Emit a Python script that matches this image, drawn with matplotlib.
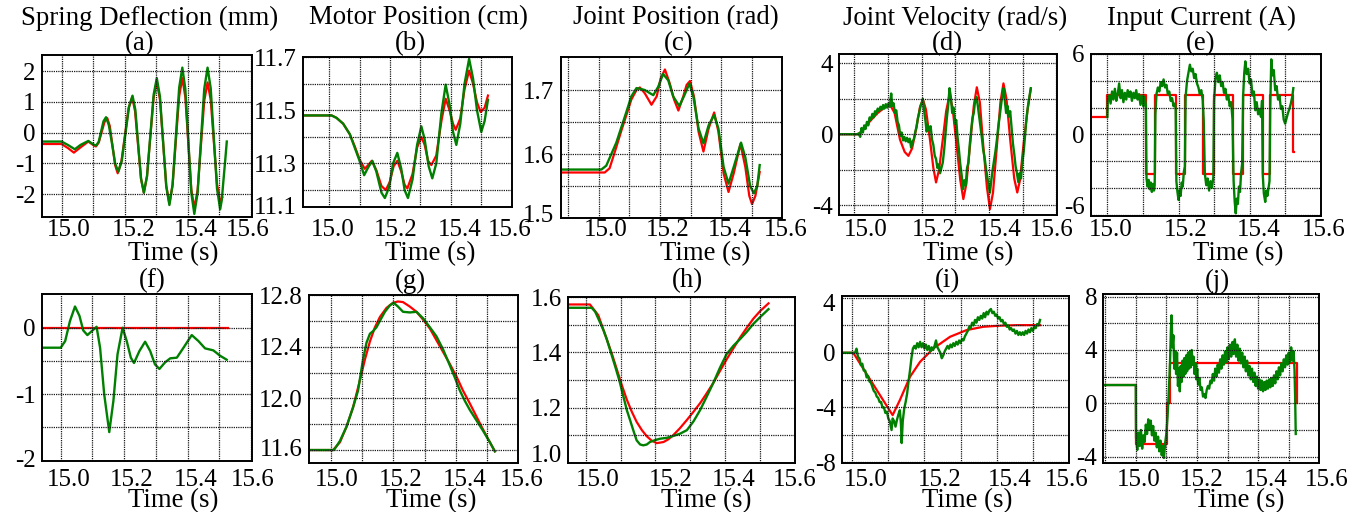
import numpy as np
import matplotlib
matplotlib.use("Agg")
import matplotlib.pyplot as plt
from matplotlib.transforms import ScaledTranslation

plt.rcParams['font.family'] = ['Liberation Serif', 'DejaVu Serif']
FS = 19.3        # titles / axis labels
FS_TICK = 18.0   # tick labels

# ---------------- data (time s, value) ----------------
top_titles = ['Spring Deflection (mm)', 'Motor Position (cm)', 'Joint Position (rad)',
              'Joint Velocity (rad/s)', 'Input Current (A)']
letters = ['(a)', '(b)', '(c)', '(d)', '(e)', '(f)', '(g)', '(h)', '(i)', '(j)']
x_label = 'Time (s)'
x_ticks = [15.0, 15.2, 15.4, 15.6]
x_ticklabels = ['15.0', '15.2', '15.4', '15.6']
x_grid = [14.9, 15.1, 15.3, 15.5]

a_red = [(14.937, -0.37), (15.0, -0.37), (15.02, -0.5), (15.039, -0.65), (15.06, -0.48), (15.085, -0.29),
         (15.10, -0.40), (15.109, -0.45), (15.118, -0.32), (15.127, 0.01), (15.136, 0.34), (15.145, 0.47),
         (15.153, 0.21), (15.1615, -0.425), (15.17, -1.06), (15.178, -1.32), (15.1895, -0.96),
         (15.201, -0.085), (15.2125, 0.79), (15.224, 1.15), (15.233, 0.70), (15.2425, -0.40),
         (15.252, -1.50), (15.261, -1.95), (15.271, -1.42), (15.2815, -0.145), (15.292, 1.13),
         (15.302, 1.66), (15.312, 1.08), (15.322, -0.32), (15.332, -1.72), (15.342, -2.30),
         (15.352, -1.71), (15.3625, -0.265), (15.373, 1.18), (15.383, 1.77), (15.3925, 1.15),
         (15.402, -0.345), (15.4115, -1.84), (15.421, -2.46), (15.4315, -1.86), (15.442, -0.415),
         (15.4525, 1.03), (15.463, 1.63), (15.473, 1.06), (15.483, -0.305), (15.493, -1.67),
         (15.503, -2.24), (15.51, -2.1)]
a_green = [(14.937, -0.29), (15.0, -0.29), (15.02, -0.40), (15.042, -0.54), (15.06, -0.40), (15.085, -0.27),
           (15.10, -0.38), (15.11, -0.42), (15.118, -0.29), (15.1255, 0.04), (15.133, 0.37), (15.141, 0.50),
           (15.15, 0.24), (15.1605, -0.385), (15.17, -1.01), (15.18, -1.27), (15.191, -0.91),
           (15.2025, -0.035), (15.214, 0.84), (15.225, 1.20), (15.234, 0.74), (15.243, -0.375),
           (15.252, -1.49), (15.261, -1.95), (15.271, -1.41), (15.2815, -0.09), (15.292, 1.23),
           (15.302, 1.77), (15.312, 1.17), (15.322, -0.29), (15.332, -1.75), (15.342, -2.35),
           (15.352, -1.70), (15.3625, -0.12), (15.373, 1.46), (15.383, 2.11), (15.3925, 1.42),
           (15.402, -0.265), (15.4115, -1.95), (15.421, -2.64), (15.4315, -1.95), (15.442, -0.265),
           (15.4525, 1.42), (15.463, 2.11), (15.473, 1.44), (15.483, -0.19), (15.493, -1.82),
           (15.503, -2.49), (15.508, -2.2), (15.513, -1.6), (15.519, -0.9), (15.524, -0.29)]

b_red = [(14.915, 11.481), (15.008, 11.481), (15.024, 11.472), (15.046, 11.45), (15.068, 11.41),
         (15.084, 11.365), (15.10, 11.315), (15.117, 11.28), (15.129, 11.295), (15.14, 11.31),
         (15.155, 11.275), (15.172, 11.215), (15.186, 11.2), (15.199, 11.23), (15.212, 11.29),
         (15.224, 11.31), (15.237, 11.27), (15.248, 11.22), (15.257, 11.206), (15.274, 11.26),
         (15.289, 11.36), (15.303, 11.40), (15.314, 11.37), (15.325, 11.31), (15.336, 11.294),
         (15.352, 11.33), (15.369, 11.46), (15.383, 11.544), (15.396, 11.50), (15.407, 11.45),
         (15.416, 11.427), (15.431, 11.47), (15.445, 11.58), (15.46, 11.65), (15.473, 11.6),
         (15.486, 11.53), (15.498, 11.494), (15.511, 11.51), (15.522, 11.556)]
b_green = [(14.915, 11.481), (15.008, 11.481), (15.024, 11.472), (15.046, 11.45), (15.068, 11.41),
           (15.084, 11.36), (15.10, 11.31), (15.115, 11.256), (15.128, 11.285), (15.142, 11.31),
           (15.155, 11.27), (15.172, 11.19), (15.183, 11.17), (15.197, 11.21), (15.21, 11.30),
           (15.224, 11.34), (15.237, 11.28), (15.248, 11.2), (15.259, 11.17), (15.274, 11.24),
           (15.289, 11.37), (15.303, 11.44), (15.314, 11.39), (15.327, 11.29), (15.339, 11.244),
           (15.352, 11.30), (15.369, 11.49), (15.383, 11.597), (15.396, 11.52), (15.407, 11.42),
           (15.418, 11.37), (15.431, 11.45), (15.445, 11.6), (15.46, 11.694), (15.473, 11.62),
           (15.486, 11.5), (15.50, 11.419), (15.511, 11.46), (15.522, 11.54)]

c_red = [(14.875, 1.5714), (15.019, 1.5714), (15.035, 1.578), (15.057, 1.611), (15.073, 1.636),
         (15.09, 1.661), (15.106, 1.685), (15.123, 1.70), (15.134, 1.704), (15.15, 1.695),
         (15.172, 1.677), (15.189, 1.69), (15.202, 1.718), (15.216, 1.732), (15.232, 1.71),
         (15.246, 1.685), (15.26, 1.668), (15.276, 1.69), (15.287, 1.708), (15.298, 1.714),
         (15.311, 1.69), (15.326, 1.635), (15.342, 1.604), (15.359, 1.64), (15.377, 1.665),
         (15.391, 1.635), (15.408, 1.57), (15.424, 1.541), (15.441, 1.57), (15.463, 1.616),
         (15.479, 1.58), (15.492, 1.535), (15.501, 1.522), (15.512, 1.535), (15.526, 1.572)]
c_green = [(14.875, 1.576), (15.008, 1.576), (15.024, 1.582), (15.057, 1.618), (15.09, 1.666),
           (15.106, 1.69), (15.123, 1.703), (15.134, 1.702), (15.15, 1.70), (15.167, 1.695),
           (15.178, 1.692), (15.194, 1.705), (15.21, 1.725), (15.227, 1.715), (15.243, 1.69),
           (15.263, 1.675), (15.278, 1.69), (15.296, 1.71), (15.309, 1.69), (15.326, 1.64),
           (15.342, 1.617), (15.359, 1.645), (15.377, 1.661), (15.391, 1.64), (15.408, 1.58),
           (15.424, 1.554), (15.441, 1.58), (15.465, 1.618), (15.479, 1.595), (15.495, 1.55),
           (15.507, 1.539), (15.518, 1.55), (15.526, 1.583)]

d_red = [(14.956, 0.0), (15.013, 0.0), (15.03, 0.35), (15.05, 0.8), (15.07, 1.2), (15.09, 1.5),
         (15.107, 1.65), (15.12, 1.2), (15.136, -0.3), (15.15, -1.0), (15.161, -1.22), (15.172, -0.8),
         (15.185, 0.4), (15.195, 1.5), (15.204, 1.97), (15.213, 1.4), (15.225, -0.3), (15.235, -1.9),
         (15.243, -2.72), (15.252, -2.0), (15.263, -0.3), (15.273, 1.3), (15.283, 2.22), (15.292, 1.5),
         (15.304, -0.6), (15.315, -2.6), (15.324, -3.66), (15.333, -2.8), (15.344, -0.6), (15.355, 1.6),
         (15.364, 2.65), (15.373, 1.8), (15.383, -0.6), (15.394, -3.0), (15.403, -4.23), (15.412, -3.3),
         (15.423, -0.8), (15.434, 1.8), (15.443, 2.87), (15.452, 2.0), (15.463, -0.3), (15.475, -2.5),
         (15.484, -3.29), (15.492, -2.6), (15.503, -0.5), (15.514, 1.3), (15.524, 2.54)]
d_green = [(14.956, 0.0), (15.010, 0.0), (15.013, 0.05), (15.018, -0.15), (15.022, 0.35), (15.026, 0.1),
           (15.030, 0.5), (15.034, 0.3), (15.038, 0.7), (15.042, 0.5), (15.046, 0.95), (15.050, 0.8),
           (15.054, 1.15), (15.058, 0.95), (15.062, 1.3), (15.066, 1.15), (15.070, 1.45), (15.074, 1.3),
           (15.078, 1.55), (15.082, 1.4), (15.086, 1.65), (15.090, 1.45), (15.094, 1.7), (15.098, 1.5),
           (15.102, 1.75), (15.106, 1.55), (15.110, 2.3), (15.113, 1.6), (15.117, 1.75), (15.121, 1.2),
           (15.125, 1.35), (15.129, 0.7), (15.133, 0.5), (15.137, -0.1), (15.141, 0.1), (15.145, -0.35),
           (15.149, -0.15), (15.153, -0.4), (15.157, -0.2), (15.161, -0.45), (15.165, -0.25),
           (15.169, -0.75), (15.173, -0.4), (15.177, -0.3), (15.181, 0.1), (15.185, 0.4), (15.189, 0.9),
           (15.193, 1.2), (15.197, 1.6), (15.201, 1.8), (15.204, 2.0), (15.208, 1.3), (15.212, 0.7),
           (15.215, 0.15), (15.219, 0.5), (15.223, 0.2), (15.227, 0.45), (15.231, -0.3), (15.235, -0.6),
           (15.239, -1.2), (15.243, -1.4), (15.247, -1.9), (15.251, -1.7), (15.255, -2.2), (15.259, -1.9),
           (15.263, -1.6), (15.267, -0.9), (15.271, 0.0), (15.275, 0.9), (15.279, 1.6), (15.283, 2.6),
           (15.287, 2.1), (15.291, 1.2), (15.295, 1.5), (15.299, 0.6), (15.303, 0.8), (15.307, -0.2),
           (15.311, -0.9), (15.315, -1.7), (15.319, -2.3), (15.323, -3.1), (15.327, -2.6), (15.331, -2.9),
           (15.335, -1.9), (15.339, -1.6), (15.343, -0.6), (15.347, 0.2), (15.351, 0.9), (15.355, 1.2),
           (15.359, 1.9), (15.363, 2.1), (15.367, 1.6), (15.371, 1.0), (15.375, 0.4), (15.379, -0.2),
           (15.383, -0.9), (15.387, -1.3), (15.391, -1.9), (15.395, -2.4), (15.399, -2.9), (15.403, -3.3),
           (15.407, -2.6), (15.411, -2.0), (15.415, -1.5), (15.419, -1.0), (15.423, -0.4), (15.427, 0.3),
           (15.431, 0.9), (15.435, 1.5), (15.439, 2.1), (15.443, 2.6), (15.447, 1.9), (15.451, 1.2),
           (15.455, 1.6), (15.459, 1.0), (15.463, 1.3), (15.467, 0.4), (15.471, -0.5), (15.475, -1.1),
           (15.479, -1.8), (15.483, -2.2), (15.487, -2.7), (15.491, -2.2), (15.495, -2.5), (15.499, -1.6),
           (15.503, -1.0), (15.507, -0.1), (15.511, 0.8), (15.515, 1.5), (15.519, 2.0), (15.524, 2.6)]

e_red_steps = [(14.953, 1.28), (15.0, 2.95), (15.109, -2.97), (15.134, 2.95), (15.193, -2.97),
               (15.219, 2.95), (15.27, -2.97), (15.30, 2.95), (15.353, -2.97), (15.381, 2.95),
               (15.437, -2.97), (15.458, 2.95), (15.523, -1.35), (15.525, -1.35)]
e_green = [(15.000, 1.3), (15.001, 2.5), (15.005, 2.9), (15.009, 2.3), (15.013, 3.2), (15.017, 2.6),
           (15.021, 3.4), (15.025, 2.5), (15.029, 3.0), (15.033, 3.8), (15.037, 2.7), (15.041, 3.3),
           (15.045, 2.4), (15.049, 3.1), (15.053, 2.6), (15.057, 3.3), (15.061, 2.8), (15.065, 3.2),
           (15.069, 2.5), (15.073, 3.1), (15.077, 2.7), (15.081, 3.3), (15.085, 2.6), (15.089, 3.0),
           (15.093, 2.2), (15.097, 2.9), (15.101, 2.1), (15.105, 2.8), (15.108, 2.2), (15.110, -3.3),
           (15.113, -3.9), (15.116, -3.4), (15.119, -4.1), (15.122, -3.6), (15.125, -4.3), (15.128, -3.7),
           (15.131, -4.2), (15.133, -3.8), (15.135, 1.5), (15.138, 3.0), (15.142, 3.5), (15.146, 3.2),
           (15.150, 3.9), (15.154, 3.6), (15.158, 4.1), (15.162, 3.5), (15.166, 3.7), (15.170, 3.0),
           (15.174, 3.2), (15.178, 2.5), (15.182, 2.7), (15.186, 2.1), (15.190, 2.3), (15.192, 1.9),
           (15.194, -3.5), (15.197, -4.3), (15.200, -4.9), (15.203, -4.2), (15.206, -4.6), (15.209, -3.6),
           (15.212, -3.9), (15.215, -2.8), (15.218, -2.4), (15.220, 2.8), (15.224, 4.0), (15.228, 4.6),
           (15.232, 5.2), (15.236, 4.7), (15.240, 4.9), (15.244, 4.2), (15.248, 4.5), (15.252, 3.8),
           (15.256, 3.5), (15.260, 3.0), (15.264, 3.3), (15.268, 2.6), (15.271, 1.0), (15.274, -2.9),
           (15.278, -3.8), (15.282, -3.3), (15.286, -4.2), (15.290, -3.5), (15.294, -4.0), (15.298, -3.2),
           (15.300, 2.5), (15.304, 4.2), (15.308, 4.6), (15.312, 3.9), (15.316, 4.4), (15.320, 3.6),
           (15.324, 3.9), (15.328, 3.1), (15.332, 3.4), (15.336, 2.6), (15.340, 2.9), (15.344, 2.1),
           (15.348, 2.4), (15.352, 1.1), (15.355, -3.5), (15.358, -5.0), (15.361, -5.9), (15.364, -4.8),
           (15.367, -5.2), (15.370, -3.9), (15.373, -4.3), (15.376, -2.9), (15.379, -2.2), (15.382, 3.0),
           (15.385, 4.6), (15.388, 5.45), (15.392, 4.5), (15.396, 4.9), (15.400, 3.8), (15.404, 4.1),
           (15.408, 2.9), (15.412, 3.2), (15.416, 1.8), (15.420, 2.4), (15.424, 1.5), (15.428, 1.9),
           (15.432, 1.3), (15.435, 2.5), (15.437, -3.0), (15.440, -4.4), (15.444, -5.05), (15.447, -4.2),
           (15.450, -4.6), (15.454, -3.9), (15.456, -3.5), (15.458, 2.0), (15.461, 5.6), (15.464, 4.4),
           (15.468, 4.8), (15.472, 3.3), (15.476, 3.6), (15.480, 2.6), (15.484, 2.9), (15.488, 1.9),
           (15.492, 2.1), (15.496, 1.1), (15.500, 0.8), (15.504, 1.2), (15.508, 1.6), (15.512, 1.9),
           (15.516, 2.3), (15.520, 2.8), (15.523, 3.45)]

f_red = [(14.94, 0.0), (15.528, 0.0)]
f_green = [(14.94, -0.30), (15.0, -0.30), (15.014, -0.2), (15.029, 0.1), (15.045, 0.32), (15.059, 0.18),
           (15.071, -0.04), (15.084, -0.11), (15.098, -0.05), (15.113, 0.015), (15.124, -0.3),
           (15.137, -1.0), (15.153, -1.57), (15.166, -1.1), (15.179, -0.4), (15.195, 0.0),
           (15.208, -0.2), (15.221, -0.45), (15.231, -0.53), (15.248, -0.35), (15.266, -0.21),
           (15.282, -0.35), (15.297, -0.55), (15.311, -0.62), (15.329, -0.52), (15.345, -0.46),
           (15.366, -0.45), (15.387, -0.3), (15.413, -0.11), (15.434, -0.2), (15.455, -0.31),
           (15.481, -0.34), (15.502, -0.42), (15.523, -0.48)]

g_red = [(14.931, 11.6), (15.007, 11.6), (15.029, 11.66), (15.05, 11.78), (15.071, 11.93), (15.093, 12.14),
         (15.109, 12.30), (15.125, 12.44), (15.141, 12.55), (15.157, 12.63), (15.178, 12.70),
         (15.199, 12.74), (15.215, 12.75), (15.231, 12.745), (15.253, 12.71), (15.274, 12.67),
         (15.295, 12.61), (15.317, 12.54), (15.338, 12.45), (15.359, 12.36), (15.38, 12.27),
         (15.402, 12.17), (15.423, 12.06), (15.445, 11.96), (15.466, 11.86), (15.487, 11.76),
         (15.509, 11.66), (15.525, 11.59)]
g_green = [(14.931, 11.6), (15.01, 11.6), (15.029, 11.67), (15.05, 11.78), (15.071, 11.93), (15.087, 12.06),
           (15.103, 12.3), (15.114, 12.43), (15.125, 12.50), (15.135, 12.52), (15.146, 12.55),
           (15.157, 12.6), (15.173, 12.67), (15.189, 12.72), (15.201, 12.74), (15.215, 12.71),
           (15.231, 12.67), (15.253, 12.665), (15.274, 12.67), (15.295, 12.62), (15.317, 12.55),
           (15.338, 12.48), (15.359, 12.38), (15.38, 12.26), (15.397, 12.16), (15.413, 12.06),
           (15.429, 11.98), (15.445, 11.91), (15.466, 11.83), (15.487, 11.75), (15.509, 11.66),
           (15.525, 11.59)]

h_red = [(14.95, 1.574), (15.012, 1.574), (15.036, 1.535), (15.06, 1.449), (15.075, 1.395), (15.089, 1.339),
         (15.103, 1.283), (15.118, 1.228), (15.132, 1.185), (15.146, 1.148), (15.161, 1.118),
         (15.175, 1.096), (15.189, 1.080), (15.204, 1.071), (15.223, 1.075), (15.237, 1.085),
         (15.251, 1.10), (15.27, 1.125), (15.29, 1.155), (15.309, 1.185), (15.328, 1.216),
         (15.347, 1.252), (15.366, 1.29), (15.385, 1.333), (15.404, 1.375), (15.424, 1.416),
         (15.443, 1.455), (15.462, 1.49), (15.481, 1.523), (15.5, 1.55), (15.524, 1.578)]
h_green = [(14.95, 1.562), (15.017, 1.562), (15.027, 1.548), (15.036, 1.523), (15.051, 1.48), (15.06, 1.449),
           (15.072, 1.40), (15.084, 1.351), (15.096, 1.30), (15.108, 1.24), (15.118, 1.19),
           (15.127, 1.155), (15.137, 1.115), (15.146, 1.081), (15.156, 1.066), (15.165, 1.063),
           (15.175, 1.066), (15.184, 1.075), (15.199, 1.082), (15.213, 1.087), (15.232, 1.09),
           (15.251, 1.097), (15.27, 1.105), (15.29, 1.118), (15.309, 1.15), (15.328, 1.191),
           (15.347, 1.24), (15.366, 1.29), (15.385, 1.345), (15.404, 1.394), (15.424, 1.425),
           (15.443, 1.449), (15.462, 1.475), (15.481, 1.504), (15.5, 1.528), (15.524, 1.557)]

i_red = [(14.971, 0.0), (15.003, 0.0), (15.04, -1.55), (15.077, -3.1), (15.112, -4.56), (15.132, -3.46),
         (15.16, -1.76), (15.188, -0.66), (15.225, 0.32), (15.271, 1.17), (15.317, 1.66), (15.363, 1.9),
         (15.409, 1.98), (15.456, 2.02), (15.52, 2.02)]
i_green = [(14.971, 0.0), (15.008, 0.0), (15.012, 0.3), (15.016, -0.3), (15.020, -0.4), (15.024, -0.9),
           (15.028, -0.8), (15.032, -1.3), (15.036, -1.3), (15.040, -1.8), (15.044, -1.7), (15.048, -2.1),
           (15.052, -2.2), (15.056, -2.5), (15.060, -2.8), (15.064, -2.9), (15.068, -3.2), (15.072, -3.3),
           (15.076, -3.6), (15.080, -3.6), (15.084, -4.0), (15.088, -4.0), (15.092, -4.4), (15.096, -4.3),
           (15.100, -4.8), (15.104, -5.0), (15.107, -5.4), (15.109, -5.65), (15.112, -4.8), (15.116, -5.0),
           (15.120, -5.4), (15.124, -4.9), (15.128, -4.5), (15.132, -4.2), (15.135, -5.2), (15.137, -6.6),
           (15.140, -5.0), (15.144, -4.1), (15.148, -3.6), (15.152, -3.0), (15.156, -2.1), (15.160, -1.3),
           (15.164, -0.4), (15.168, 0.3), (15.172, 0.5), (15.176, 0.3), (15.180, 0.7), (15.184, 0.4),
           (15.188, 0.8), (15.192, 0.4), (15.196, 0.7), (15.200, 0.3), (15.204, 0.6), (15.208, 0.2),
           (15.212, 0.5), (15.216, 0.1), (15.220, 0.4), (15.224, 0.2), (15.228, 0.5), (15.232, 0.9),
           (15.236, 0.4), (15.240, 0.2), (15.244, 0.0), (15.248, -0.4), (15.252, -0.2), (15.256, 0.1),
           (15.260, 0.3), (15.264, 0.5), (15.268, 0.3), (15.272, 0.6), (15.276, 0.4), (15.280, 0.7),
           (15.284, 0.5), (15.288, 0.8), (15.292, 0.6), (15.296, 0.9), (15.300, 0.7), (15.304, 1.0),
           (15.308, 0.9), (15.312, 1.2), (15.316, 1.4), (15.320, 1.6), (15.324, 1.9), (15.328, 1.8),
           (15.332, 2.2), (15.336, 2.0), (15.340, 2.4), (15.344, 2.2), (15.348, 2.6), (15.352, 2.4),
           (15.356, 2.7), (15.360, 2.5), (15.364, 2.9), (15.368, 2.6), (15.372, 3.0), (15.376, 2.8),
           (15.380, 3.1), (15.384, 3.2), (15.388, 2.9), (15.392, 3.0), (15.396, 2.7), (15.400, 2.8),
           (15.404, 2.5), (15.408, 2.6), (15.412, 2.3), (15.416, 2.4), (15.420, 2.1), (15.424, 2.2),
           (15.428, 1.9), (15.432, 2.0), (15.436, 1.7), (15.440, 1.8), (15.444, 1.6), (15.448, 1.7),
           (15.452, 1.4), (15.456, 1.6), (15.460, 1.3), (15.464, 1.5), (15.468, 1.3), (15.472, 1.5),
           (15.476, 1.3), (15.480, 1.6), (15.484, 1.4), (15.488, 1.7), (15.492, 1.5), (15.496, 1.8),
           (15.500, 1.6), (15.504, 1.9), (15.508, 1.8), (15.512, 2.1), (15.516, 2.0), (15.520, 2.4)]

j_red_steps = [(14.894, 1.35), (15.0, -3.05), (15.101, 0.0), (15.111, 3.0), (15.526, 0.0), (15.528, 0.0)]
j_green = [(14.894, 1.37), (15.000, 1.37), (15.001, -2.6), (15.005, -3.5), (15.009, -2.2), (15.013, -3.2),
           (15.017, -2.0), (15.021, -3.4), (15.025, -2.4), (15.029, -2.9), (15.033, -1.6), (15.037, -2.3),
           (15.041, -1.2), (15.045, -2.0), (15.049, -1.3), (15.053, -2.4), (15.057, -1.7), (15.061, -2.8),
           (15.065, -2.2), (15.069, -3.3), (15.073, -2.5), (15.077, -3.6), (15.081, -2.8), (15.085, -3.9),
           (15.089, -3.2), (15.092, -4.1), (15.096, -3.0), (15.100, -2.3), (15.104, -1.0), (15.108, 0.8),
           (15.112, 3.0), (15.115, 5.5), (15.117, 6.6), (15.120, 4.2), (15.123, 5.1), (15.126, 2.6),
           (15.129, 3.9), (15.132, 2.2), (15.135, 3.8), (15.138, 1.3), (15.141, 2.6), (15.144, 0.9),
           (15.147, 2.8), (15.150, 1.6), (15.153, 3.2), (15.156, 2.0), (15.159, 3.4), (15.162, 2.2),
           (15.165, 3.6), (15.168, 2.4), (15.171, 3.8), (15.174, 2.6), (15.177, 3.9), (15.180, 2.7),
           (15.183, 4.0), (15.186, 2.9), (15.189, 3.5), (15.192, 2.2), (15.195, 3.0), (15.198, 1.8),
           (15.201, 2.6), (15.204, 1.4), (15.208, 1.9), (15.212, 1.0), (15.216, 1.2), (15.220, 0.5),
           (15.224, 0.7), (15.228, 0.4), (15.232, 1.0), (15.236, 1.3), (15.240, 1.1), (15.244, 1.7),
           (15.248, 1.5), (15.252, 2.2), (15.256, 1.7), (15.260, 2.6), (15.264, 2.0), (15.268, 2.9),
           (15.272, 2.3), (15.276, 3.3), (15.280, 2.6), (15.284, 3.6), (15.288, 2.9), (15.292, 3.9),
           (15.296, 3.1), (15.300, 4.2), (15.304, 3.3), (15.308, 4.4), (15.312, 3.5), (15.316, 4.6),
           (15.320, 3.7), (15.324, 4.8), (15.328, 3.5), (15.332, 4.4), (15.336, 3.2), (15.340, 4.1),
           (15.344, 3.0), (15.348, 3.8), (15.352, 2.7), (15.356, 3.5), (15.360, 2.4), (15.364, 3.2),
           (15.368, 2.1), (15.372, 2.8), (15.376, 1.8), (15.380, 2.6), (15.384, 1.6), (15.388, 2.3),
           (15.392, 1.3), (15.396, 2.0), (15.400, 1.1), (15.404, 1.8), (15.408, 1.0), (15.412, 1.7),
           (15.416, 0.9), (15.420, 1.6), (15.424, 1.0), (15.428, 1.7), (15.432, 1.1), (15.436, 1.8),
           (15.440, 1.2), (15.444, 1.9), (15.448, 1.3), (15.452, 2.1), (15.456, 1.5), (15.460, 2.4),
           (15.464, 1.8), (15.468, 2.7), (15.472, 2.1), (15.476, 3.0), (15.480, 2.4), (15.484, 3.3),
           (15.488, 2.7), (15.492, 3.6), (15.496, 2.9), (15.500, 3.8), (15.504, 3.1), (15.508, 4.2),
           (15.512, 3.2), (15.516, 3.9), (15.519, 2.5), (15.521, 0.5), (15.523, -2.3)]

# y tick values / labels / grid values per panel
a_yt, a_ytl, a_yg = [-2, -1, 0, 1, 2], ['-2', '-1', '0', '1', '2'], [-2, -1, 0, 1, 2]
b_yt, b_ytl, b_yg = [11.135, 11.3, 11.5, 11.7], ['11.1', '11.3', '11.5', '11.7'], [11.2, 11.3, 11.4, 11.5, 11.6]
c_yt, c_ytl, c_yg = [1.5, 1.6, 1.7], ['1.5', '1.6', '1.7'], [1.55, 1.6, 1.65, 1.7]
d_yt, d_ytl, d_yg = [-4, 0, 4], ['-4', '0', '4'], [-4, -2, 0, 2, 4]
e_yt, e_ytl, e_yg = [-6, 0, 6], ['-6', '0', '6'], [-6, -4, -2, 0, 2, 4]
f_yt, f_ytl, f_yg = [-2, -1, 0], ['-2', '-1', '0'], [-1.5, -1, -0.5, 0]
g_yt, g_ytl, g_yg = [11.6, 12.0, 12.4, 12.8], ['11.6', '12.0', '12.4', '12.8'], [11.6, 11.8, 12.0, 12.2, 12.4, 12.6]
h_yt, h_ytl, h_yg = [1.0, 1.2, 1.4, 1.6], ['1.0', '1.2', '1.4', '1.6'], [1.1, 1.2, 1.3, 1.4, 1.5]
i_yt, i_ytl, i_yg = [-8, -4, 0, 4], ['-8', '-4', '0', '4'], [-6, -4, -2, 0, 2]
j_yt, j_ytl, j_yg = [-4, 0, 4, 8], ['-4', '0', '4', '8'], [-4, -2, 0, 2, 4, 6]

# ---------------- layout ----------------
W, H = 1364, 512
fig = plt.figure(figsize=(W / 100, H / 100), dpi=100)

RED = '#ff0000'
GREEN = '#008000'

panels = [
    # box (left, top, right, bottom) px; xoff: x tick label shifts (px); yoff: y label shifts (px, + = up)
    dict(box=(41.7, 55, 251.7, 216.7), xlim=(14.937, 15.603), ylim=(-2.73, 2.52),
         yt=(a_yt, a_ytl, a_yg), xoff=[7, 9, 8, -3], yoff={}, row=0, red=a_red, green=a_green),
    dict(box=(303.3, 57.3, 511.7, 207.3), xlim=(14.915, 15.6), ylim=(11.135, 11.7),
         yt=(b_yt, b_ytl, b_yg), xoff=[4, 6, 9, -2], yoff={0: 2}, row=0, red=b_red, green=b_green),
    dict(box=(560.7, 57.3, 782.3, 218.3), xlim=(14.875, 15.6), ylim=(1.5, 1.751),
         yt=(c_yt, c_ytl, c_yg), xoff=[7, 8, 9, 3], yoff={0: 5}, row=0, red=c_red, green=c_green),
    dict(box=(839.3, 54, 1056.7, 215), xlim=(14.956, 15.601), ylim=(-4.56, 4.53),
         yt=(d_yt, d_ytl, d_yg), xoff=[12, 12, 11, -5], yoff={}, row=0, red=d_red, green=d_green),
    dict(box=(1090.7, 54, 1320.7, 216), xlim=(14.953, 15.6), ylim=(-6.1, 6.0),
         yt=(e_yt, e_ytl, e_yg), xoff=[3, 7, 9, 3], yoff={0: 9}, row=0, red=e_red_steps, green=e_green,
         step=True),
    dict(box=(41.7, 294, 251.7, 460.7), xlim=(14.94, 15.602), ylim=(-2.0, 0.508),
         yt=(f_yt, f_ytl, f_yg), xoff=[8, 8, 8, 2], yoff={0: 2}, row=1, red=f_red, green=f_green),
    dict(box=(309.3, 295, 518.3, 462.7), xlim=(14.931, 15.6), ylim=(11.502, 12.8),
         yt=(g_yt, g_ytl, g_yg), xoff=[6, 7, 9, 3], yoff={0: 3}, row=1, red=g_red, green=g_green),
    dict(box=(568.3, 297.3, 795, 462.7), xlim=(14.95, 15.6), ylim=(1.0, 1.6),
         yt=(h_yt, h_ytl, h_yg), xoff=[12, 15, 8, 0], yoff={0: 9}, row=1, red=h_red, green=h_green),
    dict(box=(841.7, 296, 1069.3, 463.3), xlim=(14.971, 15.601), ylim=(-8.08, 4.15),
         yt=(i_yt, i_ytl, i_yg), xoff=[14, 15, 13, -2], yoff={3: -4}, row=1, red=i_red, green=i_green),
    dict(box=(1103.3, 294, 1319.3, 463.3), xlim=(14.894, 15.6), ylim=(-4.5, 8.2),
         yt=(j_yt, j_ytl, j_yg), xoff=[3, 5, 8, 7], yoff={}, row=1, red=j_red_steps, green=j_green,
         step=True),
]

ROW_LABEL_TOP = [219, 469]

for p in panels:
    l, t, r, b = p['box']
    ax = fig.add_axes([l / W, 1 - b / H, (r - l) / W, (b - t) / H])
    rt, rv = np.array(p['red']).T
    gt, gv = np.array(p['green']).T
    if p.get('step'):
        ax.step(rt, rv, where='post', color=RED, lw=1.6, zorder=2)
    else:
        ax.plot(rt, rv, color=RED, lw=1.6, zorder=2)
    ax.plot(gt, gv, color=GREEN, lw=1.7, zorder=2.1)

    yt, ytl, yg = p['yt']
    ax.set_xticks(x_ticks)
    ax.set_xticklabels(x_ticklabels)
    ax.set_xticks(x_grid, minor=True)
    ax.set_yticks(yt)
    ax.set_yticklabels(ytl)
    ax.set_yticks(yg, minor=True)
    ax.set_xlim(*p['xlim'])
    ax.set_ylim(*p['ylim'])

    ax.grid(True, which='both', color='#1a1a1a', linestyle=(0, (1, 0.8)), linewidth=0.9)
    ax.set_axisbelow(False)
    pad_px = ROW_LABEL_TOP[p['row']] - b
    ax.tick_params(which='both', length=0, labelsize=FS_TICK)
    ax.tick_params(axis='x', pad=max(pad_px, 0) * 0.72)
    ax.tick_params(axis='y', pad=4.5)
    for sp in ax.spines.values():
        sp.set_linewidth(1.4)
        sp.set_zorder(3)
    for lab, dx in zip(ax.get_xticklabels(), p['xoff']):
        lab.set_transform(lab.get_transform() + ScaledTranslation(dx / 100, 0, fig.dpi_scale_trans))
    for idx, dy in p['yoff'].items():
        lab = ax.get_yticklabels()[idx]
        lab.set_transform(lab.get_transform() + ScaledTranslation(0, dy / 100, fig.dpi_scale_trans))

# ---------------- texts ----------------
title_x = [150, 418, 676, 955, 1201]
for s, x in zip(top_titles, title_x):
    fig.text(x / W, 1 - 18 / H, s, ha='center', va='center', fontsize=FS)

letter_pos = [(140, 43.3), (410, 43.3), (679, 43.3), (947, 43.3), (1201, 43.3),
              (152, 281), (410, 281), (687, 281), (947, 281), (1217, 281)]
for s, (x, y) in zip(letters, letter_pos):
    fig.text(x / W, 1 - y / H, s, ha='center', va='center', fontsize=FS)

xlabel_pos = [(173, 254), (430, 254), (705, 254), (968, 254), (1238, 254),
              (173, 501), (431, 501), (706, 501), (967, 501), (1239, 501)]
for x, y in xlabel_pos:
    fig.text(x / W, 1 - y / H, x_label, ha='center', va='center', fontsize=FS)

fig.savefig('out.png', dpi=100)
